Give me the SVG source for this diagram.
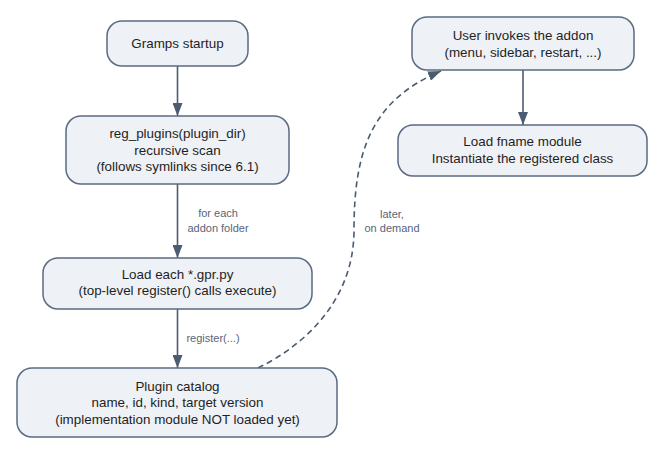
<svg xmlns="http://www.w3.org/2000/svg" width="665" height="455" viewBox="0 0 665 455">
<style>
.node rect{fill:#eef1f6;stroke:#5b6b80;stroke-width:1.5}
.node text{font-family:"Liberation Sans",Arial,sans-serif;font-size:13.4px;fill:#1f1f1f;text-anchor:middle}
.edge{fill:none;stroke:#4b5b70;stroke-width:1.6}
.dash{stroke-dasharray:6 4}
.lbl{font-family:"Liberation Sans",Arial,sans-serif;font-size:11px;fill:#5a6478;text-anchor:middle}
</style>
<defs>
<marker id="arr" viewBox="0 0 10 10" refX="10" refY="5" markerWidth="10" markerHeight="10" markerUnits="userSpaceOnUse" orient="auto">
<path d="M0,0 L10,5 L0,10 z" fill="#4b5b70"/>
</marker>
<marker id="arrL" viewBox="0 0 13 10" refX="13" refY="5" markerWidth="13" markerHeight="10" markerUnits="userSpaceOnUse" orient="auto">
<path d="M0,0 L13,5 L0,10 z" fill="#4b5b70"/>
</marker>
</defs>
<rect width="665" height="455" fill="#ffffff"/>
<g id="edges">
<path class="edge" d="M177.5,66 L177.5,116" marker-end="url(#arrL)"/>
<path class="edge" d="M177.5,184 L177.5,258" marker-end="url(#arrL)"/>
<text class="lbl" x="218" y="217">for each</text>
<text class="lbl" x="218" y="232">addon folder</text>
<path class="edge" d="M177.5,309 L177.5,368" marker-end="url(#arrL)"/>
<text class="lbl" x="213" y="342">register(...)</text>
<path class="edge dash" d="M258,368 C305,345 354,300 354,230 C354,150 372,100 441,71" marker-end="url(#arrL)"/>
<text class="lbl" x="392" y="218">later,</text>
<text class="lbl" x="392" y="232">on demand</text>
<path class="edge" d="M523,70 L523,125" marker-end="url(#arrL)"/>
</g>
<g id="n_startup" class="node">
<rect x="107" y="21" width="141" height="45" rx="15"/>
<text x="177.5" y="48">Gramps startup</text>
</g>
<g id="n_reg" class="node">
<rect x="66" y="116" width="223" height="68" rx="15"/>
<text x="177.5" y="138">reg_plugins(plugin_dir)</text>
<text x="177.5" y="154.5">recursive scan</text>
<text x="177.5" y="171">(follows symlinks since 6.1)</text>
</g>
<g id="n_gpr" class="node">
<rect x="43" y="258" width="269" height="51" rx="15"/>
<text x="177.5" y="278.5">Load each *.gpr.py</text>
<text x="177.5" y="295">(top-level register() calls execute)</text>
</g>
<g id="n_catalog" class="node">
<rect x="17" y="368" width="320" height="69" rx="15"/>
<text x="177.5" y="390.5">Plugin catalog</text>
<text x="177.5" y="407">name, id, kind, target version</text>
<text x="177.5" y="423.5">(implementation module NOT loaded yet)</text>
</g>
<g id="n_user" class="node">
<rect x="412" y="17" width="222" height="53" rx="15"/>
<text x="523" y="40">User invokes the addon</text>
<text x="523" y="56.5">(menu, sidebar, restart, ...)</text>
</g>
<g id="n_load" class="node">
<rect x="398" y="125" width="249" height="51" rx="15"/>
<text x="522.5" y="146">Load fname module</text>
<text x="522.5" y="162.5">Instantiate the registered class</text>
</g>
</svg>
